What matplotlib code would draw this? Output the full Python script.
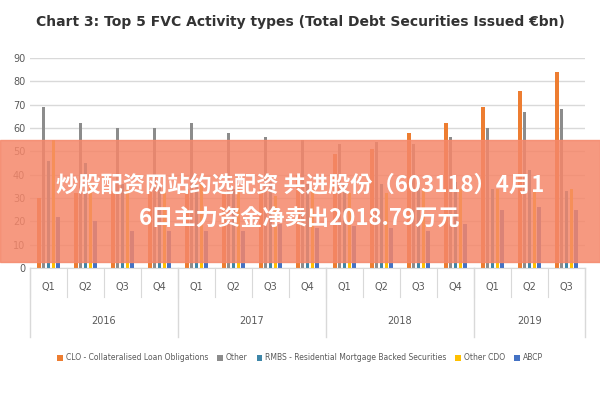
import numpy as np
import matplotlib.pyplot as plt
from matplotlib import font_manager as fm
from matplotlib.patches import Rectangle

# locate a bold sans CJK font file
cjk_files = sorted(f for f in fm.findSystemFonts()
                   if 'cjk' in f.lower() and 'sans' in f.lower())
cjk_bold = [f for f in cjk_files if 'bold' in f.lower()]
if cjk_bold or cjk_files:
    cjk = fm.FontProperties(fname=(cjk_bold or cjk_files)[0], size=16)
else:
    cjk = fm.FontProperties(family='Noto Sans CJK SC', size=16, weight='bold')

quarters = ['Q1', 'Q2', 'Q3', 'Q4'] * 3 + ['Q1', 'Q2', 'Q3']
years = ['2016', '2017', '2018', '2019']
clo = [30, 32, 33, 34, 34, 33, 34, 40, 49, 51, 58, 62, 69, 76, 84]
other = [69, 62, 60, 60, 62, 58, 56, 55, 53, 54, 53, 56, 60, 67, 68]
rmbs = [46, 45, 36, 36, 36, 34, 37, 36, 36, 36, 36, 37, 34, 42, 33]
other_cdo = [55, 37, 35, 34, 36, 34, 31, 34, 32, 32, 34, 34, 34, 34, 34]
abcp = [22, 20, 16, 16, 16, 16, 19, 17, 18, 17, 16, 19, 25, 26, 25]

series = [
    ('CLO - Collateralised Loan Obligations', clo, '#ED7D31'),
    ('Other', other, '#8C8C8C'),
    ('RMBS - Residential Mortgage Backed Securities', rmbs, '#3E86A8'),
    ('Other CDO', other_cdo, '#FFC000'),
    ('ABCP', abcp, '#4472C4'),
]

fig = plt.figure(figsize=(6, 4), dpi=100)
ax = fig.add_axes([0.05, 0.33, 0.925, 0.525])
x = np.arange(len(quarters))
w = 0.13
for i, (lab, vals, col) in enumerate(series):
    ax.bar(x + (i - 2) * w, vals, w * 0.75, color=col, label=lab)

ax.set_ylim(0, 90)
ax.set_yticks(range(0, 91, 10))
ax.set_xlim(-0.5, len(quarters) - 0.5)
ax.grid(axis='y', color='#D9D9D9', lw=1)
ax.set_axisbelow(True)
for s in ['top', 'right', 'left']:
    ax.spines[s].set_visible(False)
ax.spines['bottom'].set_color('#D9D9D9')
ax.tick_params(axis='y', length=0, labelsize=7, colors='#595959')
ax.set_xticks(x)
ax.set_xticklabels(quarters, fontsize=7, color='#595959')
ax.tick_params(axis='x', length=0, pad=10)

# year group labels and separators
starts = [0, 4, 8, 12]
ends = [4, 8, 12, 15]
for y, s, e in zip(years, starts, ends):
    ax.text((s + e - 1) / 2, -0.25, y, transform=ax.get_xaxis_transform(),
            ha='center', va='center', fontsize=7, color='#595959')
for b in starts + [15]:
    ax.plot([b - 0.5, b - 0.5], [0, -0.33], transform=ax.get_xaxis_transform(),
            color='#D9D9D9', lw=1, clip_on=False)
for q in range(16):
    ax.plot([q - 0.5, q - 0.5], [0, -0.14], transform=ax.get_xaxis_transform(),
            color='#D9D9D9', lw=0.8, clip_on=False)

fig.text(0.5, 0.945, 'Chart 3: Top 5 FVC Activity types (Total Debt Securities Issued €bn)',
         ha='center', va='center', fontsize=10, color='#333333', fontweight='bold')
fig.legend(loc='center', bbox_to_anchor=(0.5, 0.105), ncol=5, fontsize=5.5,
           frameon=False, handlelength=0.7, columnspacing=1.2, handletextpad=0.4,
           labelcolor='#595959')

# overlay banner
fig.patches.append(Rectangle((0, 0.345), 1, 0.305, transform=fig.transFigure,
                             color='#F5876A', alpha=0.85, zorder=5))
fig.text(0.5, 0.538, '炒股配资网站约选配资 共进股份（603118）4月1', ha='center', va='center',
         fontproperties=cjk, color='white', fontweight='bold', zorder=6)
fig.text(0.5, 0.452, '6日主力资金净卖出2018.79万元', ha='center', va='center',
         fontproperties=cjk, color='white', fontweight='bold', zorder=6)

fig.savefig('out.png')
